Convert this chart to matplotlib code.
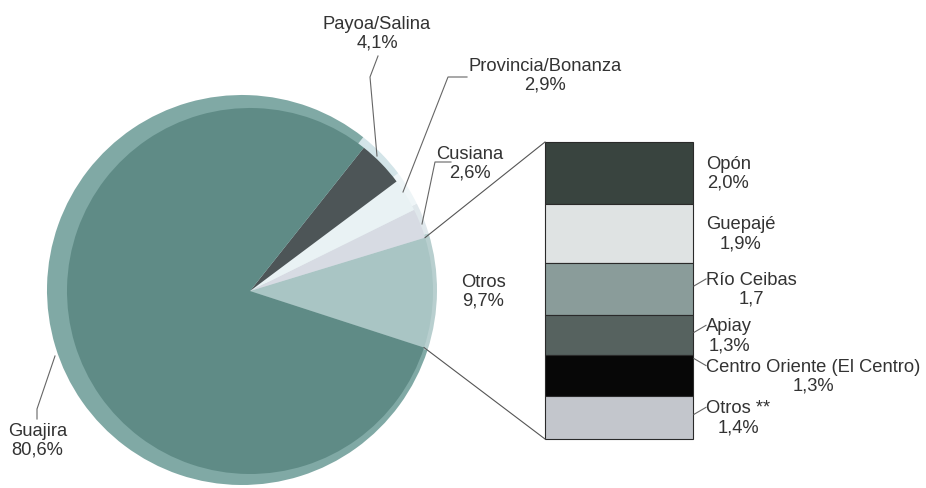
import numpy as np
import matplotlib.pyplot as plt

plt.rcParams['font.family'] = ['Liberation Sans', 'DejaVu Sans']

# pie slices, counter-clockwise starting at the "Otros" slice
pie_labels = ['Otros', 'Cusiana', 'Provincia/Bonanza', 'Payoa/Salina', 'Guajira']
pie_values = [9.7, 2.6, 2.9, 4.1, 80.6]
pie_text = ['9,7%', '2,6%', '2,9%', '4,1%', '80,6%']
pie_colors = ['#a9c5c4', '#d7dbe3', '#e9f2f4', '#4d5557', '#5f8b86']
rim_colors = ['#b8cfcf', '#dfe7eb', '#eef5f7', '#d3e4e8', '#80a9a5']

# breakdown of "Otros" (top to bottom)
bar_labels = ['Opón', 'Guepajé', 'Río Ceibas', 'Apiay', 'Centro Oriente (El Centro)', 'Otros **']
bar_values = [2.0, 1.9, 1.7, 1.3, 1.3, 1.4]
bar_text = ['2,0%', '1,9%', '1,7', '1,3%', '1,3%', '1,4%']
bar_colors = ['#39443f', '#dfe3e3', '#8a9c9a', '#56625f', '#070707', '#c3c6cc']

H = 489
fig = plt.figure(figsize=(9.26, 4.89), dpi=100)
ax = fig.add_axes([0, 0, 1, 1])

start = -18
center = (250, H - 292)
radius = 183

# lighter rim behind the pie
ax.pie(pie_values, colors=rim_colors, startangle=start, counterclock=True,
       center=(242, H - 291), radius=195, wedgeprops=dict(linewidth=0))
wedges, _ = ax.pie(pie_values, colors=pie_colors, startangle=start, counterclock=True,
                   center=center, radius=radius, wedgeprops=dict(linewidth=0))

# stacked bar
scale = 297 / sum(bar_values)
bar_top = H - 143
bar_x, bar_w = 619, 148
tops = bar_top - np.concatenate([[0], np.cumsum(bar_values)[:-1]]) * scale
heights = np.array(bar_values) * scale
ax.bar(bar_x, heights, bottom=tops - heights, width=bar_w, color=bar_colors,
       edgecolor='#2a2a2a', linewidth=0.8)

# connector lines from the "Otros" slice to the bar
a0 = np.deg2rad(start)
a1 = np.deg2rad(start + pie_values[0] / sum(pie_values) * 360)
left = bar_x - bar_w / 2
for a, y in [(a1, bar_top), (a0, tops[-1] - heights[-1])]:
    ax.plot([center[0] + radius * np.cos(a), left], [center[1] + radius * np.sin(a), y],
            color='#555555', lw=0.8)

fs = 13.2
tc = '#333333'
lc = '#666666'

def label(x, y, s, ha='center'):
    ax.text(x, H - y, s, ha=ha, va='center', fontsize=fs, color=tc,
            multialignment='center', linespacing=1.15)

def leader(xs, ys):
    ax.plot(xs, [H - v for v in ys], color=lc, lw=0.8)

# pie labels
label(483, 292, pie_labels[0] + '\n' + pie_text[0])
label(470, 164, pie_labels[1] + '\n' + pie_text[1])
leader([451, 435, 422], [163, 163, 225])
label(545, 76, pie_labels[2] + '\n' + pie_text[2])
leader([467, 448, 403], [78, 78, 193])
label(377, 34, pie_labels[3] + '\n' + pie_text[3])
leader([378, 370, 377], [57, 78, 157])
label(8, 441, pie_labels[4] + '\n' + pie_text[4], ha='left')
leader([37, 37, 55], [420, 410, 357])

# bar labels
right = bar_x + bar_w / 2
for i, (name, txt) in enumerate(zip(bar_labels, bar_text)):
    mid = H - (tops[i] - heights[i] / 2)
    label(706, mid, name + '\n' + txt, ha='left')
    if i >= 2:
        dy = -7 if i == 4 else 7
        leader([right + 1, 706], [mid - 10 + dy, mid - 10])

ax.set_xlim(0, 926)
ax.set_ylim(0, H)
ax.set_aspect('equal')
ax.axis('off')
fig.savefig('out.png', dpi=100, facecolor='white')
